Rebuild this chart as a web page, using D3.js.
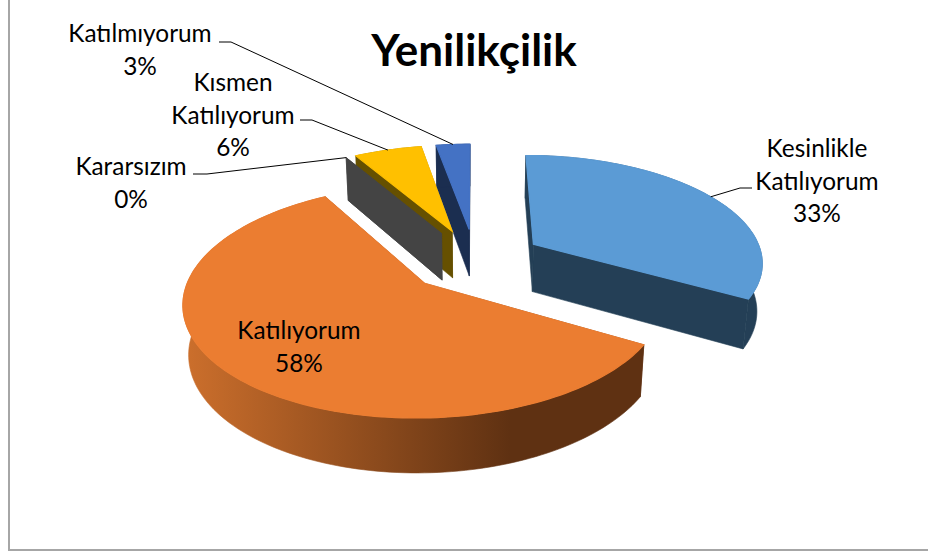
<!DOCTYPE html>
<html>
<head>
<meta charset="utf-8">
<script src="https://cdn.jsdelivr.net/npm/d3@7"></script>
<style>
  html, body { margin: 0; padding: 0; background: #fff; }
  svg { display: block; }
  text { font-family: Lato, "Open Sans", sans-serif; fill: #000; }
</style>
</head>
<body>
<svg id="chart" width="928" height="553"></svg>
<script>
const chartTitle = "Yenilikçilik";
const categories = ["Kesinlikle Katılıyorum", "Katılıyorum", "Kararsızım", "Kısmen Katılıyorum", "Katılmıyorum"];
const values = [33.3, 58.3, 0, 5.6, 2.8];
const topColors = ["#5B9BD5", "#EB7D31", "#444444", "#FFC000", "#4472C4"];
const wallColors = ["#243F56", "#5F3112", "#444444", "#665000", "#1B2E50"];
const drawOrder = [4, 3, 2, 0, 1];

// label placement: line break per category, centre x, first baseline, leader start
const labelLines = [["Kesinlikle", "Katılıyorum"], ["Katılıyorum"], ["Kararsızım"], ["Kısmen", "Katılıyorum"], ["Katılmıyorum"]];
const labelX = [817, 299, 131, 233, 140];
const labelY = [157, 339, 175, 91, 42];
const leaderFrom = [[752, 188], null, [193, 174], [300, 120], [219, 42]];
const leaderElbow = [[740, 188], null, [207, 174], [312, 120], [231, 42]];

const svg = d3.select("#chart");
const width = +svg.attr("width"), height = +svg.attr("height");

// 3d camera for the pie
const cam = { cx: 475, cy: 260, scale: 230, tilt: 27.6, dist: 5.9 };
const explode = 0.3, thick = 0.24;
const sinT = Math.sin(cam.tilt * Math.PI / 180), cosT = Math.cos(cam.tilt * Math.PI / 180);

function project(X, Y, Z) {
    let yc = Y * sinT + Z * cosT;
    let zc = cam.dist + Y * cosT - Z * sinT;
    let f = cam.scale * cam.dist / zc;
    return [cam.cx + X * f, cam.cy - yc * f];
}

let slices = d3.pie().sort(null).value(d => d)(values);
let line = d3.line();

function apex(d) {
    let mid = (d.startAngle + d.endAngle) / 2;
    return [explode * Math.sin(mid), explode * Math.cos(mid)];
}

function rimPoints(d, z) {
    let a = apex(d);
    let n = Math.max(2, Math.ceil((d.endAngle - d.startAngle) * 40));
    return d3.range(n + 1).map(i => {
        let ang = d.startAngle + (d.endAngle - d.startAngle) * i / n;
        return project(a[0] + Math.sin(ang), a[1] + Math.cos(ang), z);
    });
}

function radialWall(d, ang) {
    let a = apex(d);
    let ox = a[0] + Math.sin(ang), oy = a[1] + Math.cos(ang);
    return [project(a[0], a[1], 0), project(ox, oy, 0), project(ox, oy, -thick), project(a[0], a[1], -thick)];
}

let defs = svg.append("defs");
let grad = defs.append("linearGradient")
    .attr("id", "rimOrange")
    .attr("gradientUnits", "userSpaceOnUse")
    .attr("x1", 185).attr("x2", 510).attr("y1", 0).attr("y2", 0);
grad.append("stop").attr("offset", "0%").attr("stop-color", "#CC6F2C");
grad.append("stop").attr("offset", "100%").attr("stop-color", wallColors[1]);

// chart frame, only left and bottom show in the picture
svg.append("path")
    .attr("d", line([[9, 0], [9, 550], [width, 550]]))
    .attr("fill", "none")
    .attr("stroke", "#A6A6A6")
    .attr("stroke-width", 2);

let pie = svg.append("g").attr("class", "pie");

drawOrder.forEach(i => {
    let d = slices[i];
    let g = pie.append("g");
    let rimFill = i === 1 ? "url(#rimOrange)" : wallColors[i];

    [d.endAngle, d.startAngle].forEach(ang => {
        g.append("path")
            .attr("d", line(radialWall(d, ang)) + "Z")
            .attr("fill", wallColors[i])
            .attr("stroke", wallColors[i])
            .attr("stroke-width", 0.6);
    });

    if (d.endAngle > d.startAngle) {
        let top = rimPoints(d, 0);
        let bottom = rimPoints(d, -thick).reverse();
        g.append("path")
            .attr("d", line(top.concat(bottom)) + "Z")
            .attr("fill", rimFill)
            .attr("stroke", rimFill)
            .attr("stroke-width", 0.6);

        let a = apex(d);
        // same colour stroke so the back walls do not peek out round the top
        g.append("path")
            .attr("d", line([project(a[0], a[1], 0)].concat(top)) + "Z")
            .attr("fill", topColors[i])
            .attr("stroke", topColors[i])
            .attr("stroke-width", 1.2);
    }
});

// leader lines end on the slice rim
slices.forEach((d, i) => {
    if (!leaderFrom[i]) return;
    let a = apex(d);
    let mid = (d.startAngle + d.endAngle) / 2;
    let end = project(a[0] + Math.sin(mid), a[1] + Math.cos(mid), 0);
    svg.append("path")
        .attr("d", line([leaderFrom[i], leaderElbow[i], end]))
        .attr("fill", "none")
        .attr("stroke", "#000")
        .attr("stroke-width", 1);
});

// labels
const labelSize = 24.4, lineStep = 32.5;
slices.forEach((d, i) => {
    let t = svg.append("text")
        .attr("text-anchor", "middle")
        .attr("font-size", labelSize);
    labelLines[i].concat([Math.round(d.value) + "%"]).forEach((s, k) => {
        t.append("tspan")
            .attr("x", labelX[i])
            .attr("y", labelY[i] + k * lineStep)
            .text(s);
    });
});

svg.append("text")
    .attr("x", 474)
    .attr("y", 66)
    .attr("text-anchor", "middle")
    .attr("font-size", 44)
    .attr("font-weight", 700)
    .text(chartTitle);
</script>
</body>
</html>
